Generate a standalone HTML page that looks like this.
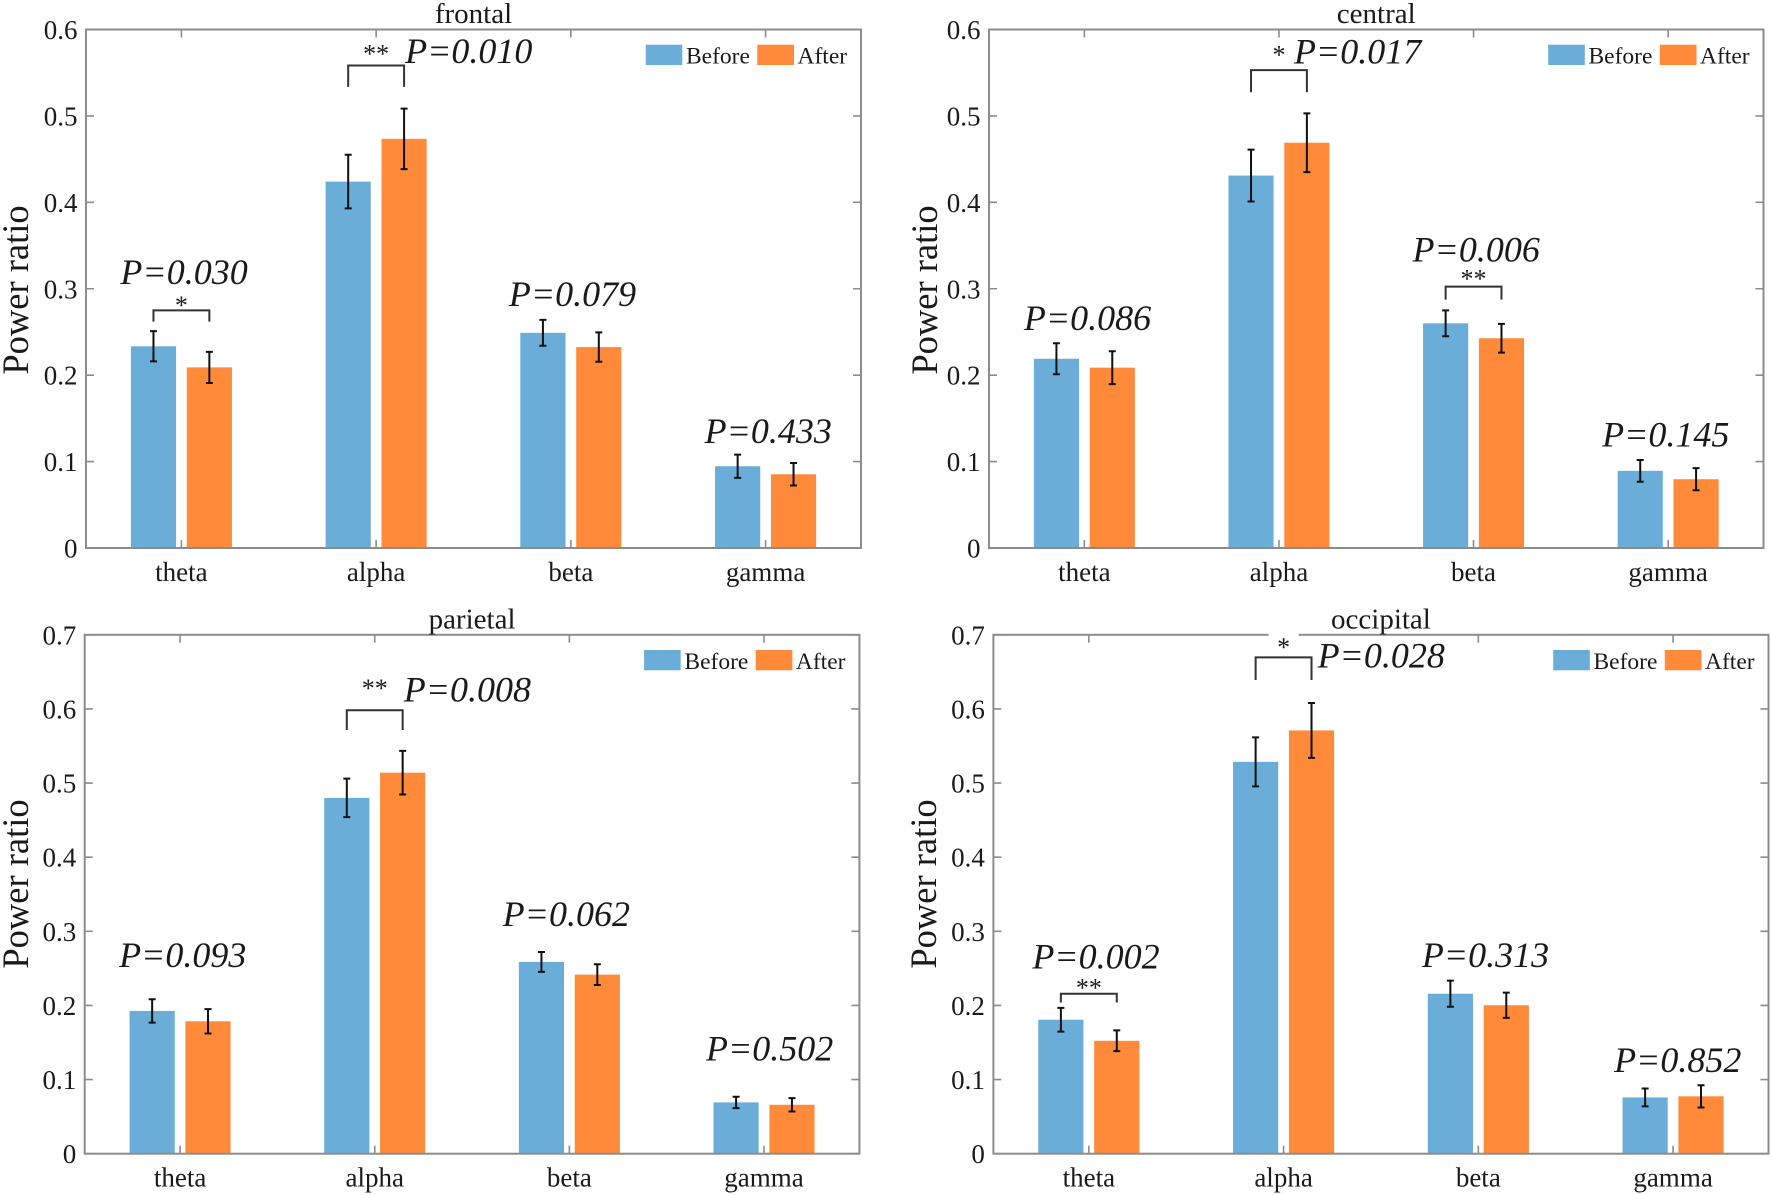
<!DOCTYPE html>
<html lang="en">
<head>
<meta charset="utf-8">
<title>Power ratio before and after, by region</title>
<style>
html,body{margin:0;padding:0;background:#fff;}
svg{display:block;}
text{font-family:"Liberation Serif",serif;fill:#1a1a1a;}
</style>
</head>
<body>
<svg id="figure" xmlns="http://www.w3.org/2000/svg" width="1772" height="1195" viewBox="0 0 1772 1195"></svg>
<script>
const categories = ['theta', 'alpha', 'beta', 'gamma'];
const seriesNames = ['Before', 'After'];

const yTickLabels06 = ['0', '0.1', '0.2', '0.3', '0.4', '0.5', '0.6'];
const yTickLabels07 = ['0', '0.1', '0.2', '0.3', '0.4', '0.5', '0.6', '0.7'];

const frontalBefore = [0.2334, 0.424, 0.249, 0.0946];
const frontalAfter = [0.209, 0.4735, 0.2325, 0.0853];
const frontalBeforeErr = [0.0175, 0.031, 0.015, 0.0135];
const frontalAfterErr = [0.018, 0.035, 0.017, 0.013];
const frontalP = ['P=0.030', 'P=0.010', 'P=0.079', 'P=0.433'];

const centralBefore = [0.219, 0.431, 0.26, 0.0893];
const centralAfter = [0.2087, 0.469, 0.2427, 0.0796];
const centralBeforeErr = [0.018, 0.03, 0.015, 0.0126];
const centralAfterErr = [0.019, 0.034, 0.0166, 0.0128];
const centralP = ['P=0.086', 'P=0.017', 'P=0.006', 'P=0.145'];

const parietalBefore = [0.1926, 0.48, 0.2587, 0.0692];
const parietalAfter = [0.1786, 0.514, 0.2416, 0.066];
const parietalBeforeErr = [0.0157, 0.026, 0.0134, 0.0077];
const parietalAfterErr = [0.0165, 0.0294, 0.014, 0.009];
const parietalP = ['P=0.093', 'P=0.008', 'P=0.062', 'P=0.502'];

const occipitalBefore = [0.1807, 0.5286, 0.2158, 0.0759];
const occipitalAfter = [0.1523, 0.571, 0.2003, 0.0774];
const occipitalBeforeErr = [0.016, 0.033, 0.0176, 0.012];
const occipitalAfterErr = [0.014, 0.037, 0.017, 0.015];
const occipitalP = ['P=0.002', 'P=0.028', 'P=0.313', 'P=0.852'];

const svg = document.getElementById('figure');
const NS = 'http://www.w3.org/2000/svg';
const BLUE = '#6aadd8';
const ORANGE = '#ff8a3a';
const AXIS = '#8c8c8c';

function node(tag, attrs, parent) {
  const el = document.createElementNS(NS, tag);
  for (const k in attrs) el.setAttribute(k, attrs[k]);
  (parent || svg).appendChild(el);
  return el;
}

function makePanel(o) {
  const g = node('g', {});
  
  
  const xMin = 0.51, xMax = 4.49;
  const x = v => o.left + (v - xMin) / (xMax - xMin) * (o.right - o.left);
  const y = v => o.bottom - v / o.yMax * (o.bottom - o.top);
  return {o, g, x, y};
}

function drawBars(p) {
  const o = p.o, g = p.g;
  const unit = p.x(2) - p.x(1);
  const offset = 0.1435 * unit, width = 0.232 * unit;
  categories.forEach((cat, i) => {
    const cx = p.x(i + 1);
    [[o.before, o.beforeErr, -1, BLUE, 0], [o.after, o.afterErr, 1, ORANGE, 1]].forEach(s => {
      const v = s[0][i], err = s[1][i], bx = cx + s[2] * offset;
      const rect = node('rect', {x: bx - width / 2, y: p.y(v), width: width, height: p.y(0) - p.y(v), fill: s[3]}, g);
      
      
      const eb = node('path', {
        d: 'M' + bx + ' ' + p.y(v + err) + 'V' + p.y(v - err) +
           'M' + (bx - 3.5) + ' ' + p.y(v + err) + 'h7' +
           'M' + (bx - 3.5) + ' ' + p.y(v - err) + 'h7',
        stroke: '#111', 'stroke-width': 2, fill: 'none'
      }, g);
      
      
    });
  });
}

function drawAxes(p) {
  const o = p.o, g = p.g;
  const box = node('rect', {x: o.left, y: o.top, width: o.right - o.left, height: o.bottom - o.top, fill: 'none', stroke: AXIS, 'stroke-width': 2}, g);
  
  
  o.yLabels.forEach(label => {
    const v = parseFloat(label), ty = p.y(v);
    const t = node('path', {d: 'M' + o.left + ' ' + ty + 'h8M' + o.right + ' ' + ty + 'h-8', stroke: AXIS, 'stroke-width': 1.6, fill: 'none'}, g);
    
    
    const tx = node('text', {x: o.left - 8.5, y: ty + 9.5, 'text-anchor': 'end', 'font-size': 27}, g);
    tx.textContent = label;
    
    
  });
  categories.forEach((cat, i) => {
    const cx = p.x(i + 1);
    const t = node('path', {d: 'M' + cx + ' ' + o.top + 'v8M' + cx + ' ' + o.bottom + 'v-8', stroke: AXIS, 'stroke-width': 1.6, fill: 'none'}, g);
    
    
    const tx = node('text', {x: cx, y: o.bottom + 33, 'text-anchor': 'middle', 'font-size': 27}, g);
    tx.textContent = cat;
    
    
  });
  const title = node('text', {x: (o.left + o.right) / 2, y: o.top - 6.5, 'text-anchor': 'middle', 'font-size': 29}, g);
  title.textContent = o.name;
  
  
  const yt = node('text', {x: 0, y: 0, 'text-anchor': 'middle', 'font-size': 36.5, transform: 'translate(' + o.yTitleX + ' ' + o.yTitleY + ') rotate(-90)'}, g);
  yt.textContent = 'Power ratio';
  
  
}

function drawLegend(p) {
  const o = p.o;
  const lg = node('g', {}, p.g);
  
  
  const ty = o.top + 15.2;
  const a = node('rect', {x: o.right - 215.3, y: ty, width: 36.6, height: 20.3, fill: BLUE}, lg);
  
  
  const at = node('text', {x: o.right - 175, y: ty + 18.8, 'font-size': 23.5}, lg);
  at.textContent = seriesNames[0];
  
  
  const b = node('rect', {x: o.right - 103.7, y: ty, width: 36.7, height: 20.3, fill: ORANGE}, lg);
  
  
  const bt = node('text', {x: o.right - 63.5, y: ty + 18.8, 'font-size': 23.5}, lg);
  bt.textContent = seriesNames[1];
  
  
}

function pLabel(p, i, dx, val) {
  const t = node('text', {x: p.x(i + 1) + dx, y: p.y(val), 'font-size': 36, 'font-style': 'italic'}, p.g);
  t.textContent = p.o.pLabels[i];
  
  
}

function bracket(p, i, topVal, botVal, stars, starOffset) {
  const unit = p.x(2) - p.x(1);
  const cx = p.x(i + 1), d = 0.1435 * unit;
  const path = node('path', {
    d: 'M' + (cx - d) + ' ' + p.y(botVal) + 'V' + p.y(topVal) + 'H' + (cx + d) + 'V' + p.y(botVal),
    fill: 'none', stroke: '#333', 'stroke-width': 2
  }, p.g);
  
  
  const s = node('text', {x: cx, y: p.y(topVal) - starOffset + 12, 'text-anchor': 'middle', 'font-size': 26}, p.g);
  s.textContent = stars;
  
  
}

const frontal = makePanel({name: 'frontal', left: 86, right: 861, top: 29.5, bottom: 548, yMax: 0.6, yLabels: yTickLabels06, yTitleX: 28, yTitleY: 290,
  before: frontalBefore, after: frontalAfter, beforeErr: frontalBeforeErr, afterErr: frontalAfterErr, pLabels: frontalP});
const central = makePanel({name: 'central', left: 989, right: 1763.5, top: 29.5, bottom: 548, yMax: 0.6, yLabels: yTickLabels06, yTitleX: 937, yTitleY: 290,
  before: centralBefore, after: centralAfter, beforeErr: centralBeforeErr, afterErr: centralAfterErr, pLabels: centralP});
const parietal = makePanel({name: 'parietal', left: 84.7, right: 859.4, top: 634.8, bottom: 1153.7, yMax: 0.7, yLabels: yTickLabels07, yTitleX: 28, yTitleY: 884,
  before: parietalBefore, after: parietalAfter, beforeErr: parietalBeforeErr, afterErr: parietalAfterErr, pLabels: parietalP});
const occipital = makePanel({name: 'occipital', left: 993.4, right: 1768.5, top: 634.8, bottom: 1153.7, yMax: 0.7, yLabels: yTickLabels07, yTitleX: 936, yTitleY: 884,
  before: occipitalBefore, after: occipitalAfter, beforeErr: occipitalBeforeErr, afterErr: occipitalAfterErr, pLabels: occipitalP});

[frontal, central, parietal, occipital].forEach(p => {
  drawBars(p);
  drawAxes(p);
  drawLegend(p);
});

pLabel(frontal, 0, -61, 0.3056);
pLabel(frontal, 1, 29, 0.5613);
pLabel(frontal, 2, -62, 0.28);
pLabel(frontal, 3, -61, 0.1215);
bracket(frontal, 0, 0.275, 0.262, '*', 8.4);
bracket(frontal, 1, 0.5584, 0.5336, '**', 15);

pLabel(central, 0, -60.5, 0.2524);
pLabel(central, 1, 15, 0.5606);
pLabel(central, 2, -61, 0.3316);
pLabel(central, 3, -66, 0.1176);
bracket(central, 1, 0.553, 0.5274, '*', 18.6);
bracket(central, 2, 0.3024, 0.2874, '**', 11);

pLabel(parietal, 0, -61, 0.2519);
pLabel(parietal, 1, 29, 0.6102);
pLabel(parietal, 2, -66.7, 0.3072);
pLabel(parietal, 3, -58, 0.126);
bracket(parietal, 1, 0.5983, 0.5715, '**', 25);

const axisGap = node('rect', {x: occipital.x(2) - 15, y: occipital.o.top - 3, width: 30, height: 6, fill: '#fff'}, occipital.g);


pLabel(occipital, 0, -56.5, 0.2499);
pLabel(occipital, 1, 34, 0.6557);
pLabel(occipital, 2, -56.5, 0.2519);
pLabel(occipital, 3, -59, 0.1105);
bracket(occipital, 0, 0.2158, 0.2039, '**', 9);
bracket(occipital, 1, 0.6696, 0.639, '*', 13.4);
</script>
</body>
</html>
